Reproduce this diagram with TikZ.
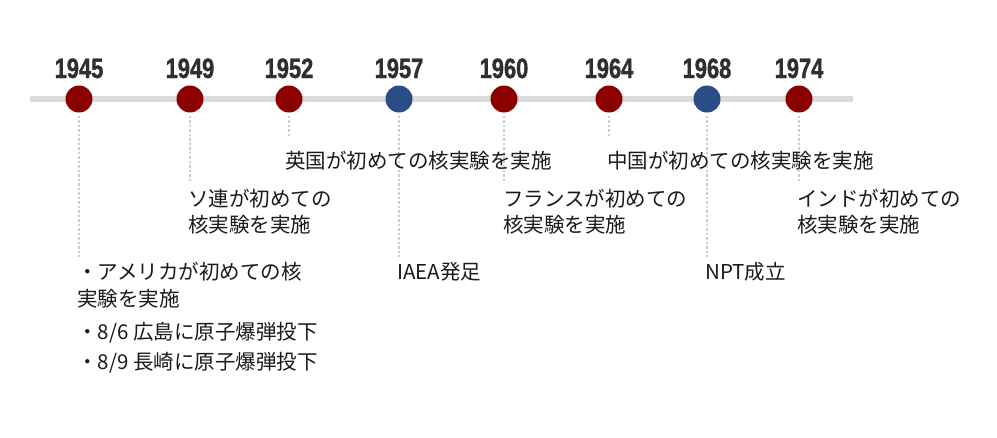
\documentclass[tikz,border=0pt]{standalone}
\usepackage{fontspec}
\newfontfamily\jp{Noto Sans CJK JP}
\newfontfamily\yearfont[FakeStretch=0.78,FakeBold=1.2]{Liberation Sans}
\definecolor{linegray}{HTML}{DCDCDC}
\definecolor{dotgray}{HTML}{CDCDCD}
\definecolor{evred}{HTML}{8B0000}
\definecolor{evblue}{HTML}{2B4D87}
\definecolor{yeargray}{HTML}{2D3033}
\definecolor{txt}{HTML}{1A1A1A}
\tikzset{
  yearlbl/.style={inner sep=0pt, anchor=base, text=yeargray, font=\yearfont\bfseries\fontsize{28}{30}\selectfont},
  dotnode/.style={circle, inner sep=0pt, minimum size=27pt, draw=none},
  leader/.style={draw=dotgray, line width=2.2pt, dash pattern=on 2.5pt off 2pt},
  evtext/.style={inner sep=0pt, anchor=base west, text=txt, font=\jp\fontsize{20.5}{26}\selectfont}
}
\begin{document}
\begin{tikzpicture}[x=1pt,y=-1pt]
\useasboundingbox[fill=white] (0,0) rectangle (997,437);
\draw[line width=6pt, draw=linegray] (30,99) -- (853,99);
\foreach \name/\x/\col/\yend in {1945/79/evred/257,1949/190/evred/183,1952/289/evred/136,1957/399/evblue/257,1960/504/evred/183,1964/609/evred/136,1968/707/evblue/257,1974/799/evred/183}{
  \node[yearlbl] (y\name) at (\x,78) {\name};
  \node[dotnode, fill=\col] (c\name) at (\x,99) {};
  \coordinate (e\name) at (\x,\yend);
  \draw[leader] ([yshift=-3pt]c\name.south) -- (e\name);
}
% 1945
\node[evtext] (t1945a) at (77,279) {・アメリカが初めての核};
\node[evtext] (t1945b) at (77,306) {実験を実施};
\node[evtext] (t1945c) at (77,339) {・8/6 広島に原子爆弾投下};
\node[evtext] (t1945d) at (77,369) {・8/9 長崎に原子爆弾投下};
% 1949
\node[evtext] (t1949a) at (188,206) {ソ連が初めての};
\node[evtext] (t1949b) at (188,232) {核実験を実施};
% 1952
\node[evtext] (t1952) at (285,168) {英国が初めての核実験を実施};
% 1957
\node[evtext] (t1957) at (397,279) {IAEA発足};
% 1960
\node[evtext] (t1960a) at (503,206) {フランスが初めての};
\node[evtext] (t1960b) at (503,232) {核実験を実施};
% 1964
\node[evtext] (t1964) at (607,168) {中国が初めての核実験を実施};
% 1968
\node[evtext] (t1968) at (705,279) {NPT成立};
% 1974
\node[evtext] (t1974a) at (797,206) {インドが初めての};
\node[evtext] (t1974b) at (797,232) {核実験を実施};
\end{tikzpicture}
\end{document}
